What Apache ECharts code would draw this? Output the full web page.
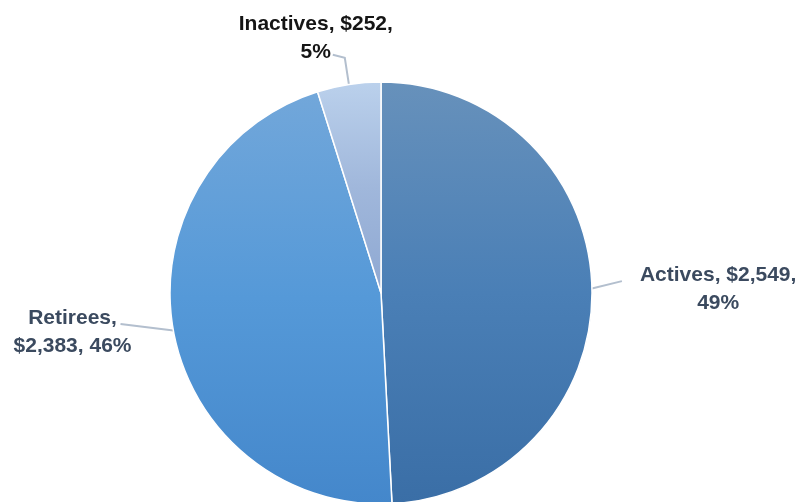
<!DOCTYPE html>
<html>
<head>
<meta charset="utf-8">
<script src="https://cdn.jsdelivr.net/npm/echarts@6/dist/echarts.min.js"></script>
<style>
  html, body { margin: 0; padding: 0; background: #ffffff; }
  #chart { width: 803px; height: 502px; }
</style>
</head>
<body>
<div id="chart"></div>
<script>
// Spending by member group (in $ millions)
const categories = ['Actives', 'Retirees', 'Inactives'];
const amounts = [2549, 2383, 252];

// Slice shading, top to bottom
const sliceColors = [
  ['#6791bb', '#4a7fb6', '#3a6ea6'],
  ['#72a7da', '#5599d8', '#4487cb'],
  ['#bbd1ec', '#a0b7db', '#8ea8d2']
];
const labelColors = ['#3b4a5f', '#3b4a5f', '#151515'];
// Leader line segment lengths per slice
const lineLengths = [[15, 15], [8, 45], [27, 12]];

function grad(stops) {
  return {
    type: 'linear', x: 0, y: 0, x2: 0, y2: 1,
    colorStops: [
      { offset: 0, color: stops[0] },
      { offset: 0.5, color: stops[1] },
      { offset: 1, color: stops[2] }
    ]
  };
}

function money(v) {
  return '$' + v.toLocaleString('en-US');
}

const data = categories.map((name, i) => ({
  name: name,
  value: amounts[i],
  itemStyle: { color: grad(sliceColors[i]) },
  labelLine: { length: lineLengths[i][0], length2: lineLengths[i][1] },
  label: { rich: { t: { color: labelColors[i] } } }
}));

const chart = echarts.init(document.getElementById('chart'), null, { renderer: 'canvas' });

chart.setOption({
  animation: false,
  backgroundColor: '#ffffff',
  series: [{
    type: 'pie',
    center: [381, 293],
    radius: 211,
    startAngle: 90,
    clockwise: true,
    avoidLabelOverlap: false,
    data: data,
    itemStyle: { borderColor: '#ffffff', borderWidth: 1.5 },
    label: {
      show: true,
      position: 'outside',
      fontFamily: '"Liberation Sans", Arial, sans-serif',
      fontWeight: 'bold',
      fontSize: 21,
      lineHeight: 28,
      formatter: function (p) {
        const pct = Math.round(p.percent) + '%';
        if (p.name === 'Retirees') {
          return '{t|' + p.name + ',}\n{t|' + money(p.value) + ', ' + pct + '}';
        }
        return '{t|' + p.name + ', ' + money(p.value) + ',}\n{t|' + pct + '}';
      },
      rich: {
        t: {
          align: 'center',
          fontFamily: '"Liberation Sans", Arial, sans-serif',
          fontWeight: 'bold',
          fontSize: 21,
          lineHeight: 28
        }
      }
    },
    labelLine: {
      show: true,
      smooth: false,
      lineStyle: { color: '#b3bfce', width: 2 }
    },
    labelLayout: function (params) {
      const pts = params.labelLinePoints;
      if (!pts) return {};
      const start = pts[0];
      const end = pts[pts.length - 1];
      if (params.dataIndex === 0) {
        // single slanted leader towards the label's left edge
        const tip = [end[0], end[1] - 6];
        return { x: end[0] + 18, y: end[1] + 2, align: 'left', verticalAlign: 'middle',
                 labelLinePoints: [[start[0], start[1] + 1], tip] };
      }
      if (params.dataIndex === 1) {
        const tip = [end[0], end[1] - 8];
        return { x: end[0] + 11, y: end[1], align: 'right', verticalAlign: 'middle',
                 labelLinePoints: [start, tip] };
      }
      return { x: end[0] - 17, y: end[1] - 20, align: 'center', verticalAlign: 'middle',
               labelLinePoints: [pts[0], pts[1], [end[0], end[1] - 3]] };
    }
  }]
});
</script>
</body>
</html>
